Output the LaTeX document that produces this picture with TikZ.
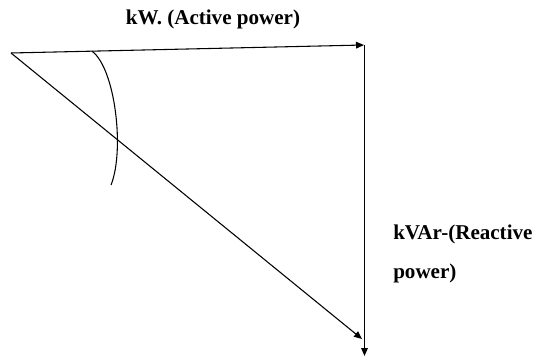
\documentclass[tikz,border=0pt]{standalone}
\usepackage{fontspec}
\setmainfont{Liberation Serif}
\usepackage{tikz}
\usetikzlibrary{arrows.meta, positioning}
\tikzset{
  vec/.style ={draw, line width=0.8pt, -{Triangle[length=6pt, width=5pt]}},
  ang/.style ={draw, line width=0.8pt},
  lbl/.style ={font=\bfseries\fontsize{15.8}{29}\selectfont, inner sep=0pt, align=left},
}

\begin{document}
\begin{tikzpicture}[x=0.75pt, y=-0.75pt]
  \useasboundingbox (0,0) rectangle (539,356);
  \coordinate (o) at (11,53);
  \coordinate (kw) at (364,45);
  \coordinate (top) at (364.5,45);
  \coordinate (kvar) at (364.5,356);
  \coordinate (kva) at (362,339);
  \coordinate (arcbeg) at (92,51.2);
  \coordinate (arcend) at (111,185);
  \node[lbl] (kwlbl) at (213,19) {kW. (Active power)};
  \node[lbl, anchor=north west] (kvarlbl) at (393,225) {kVAr-(Reactive\\power)};
  \draw[vec] (o)--(kw);
  \draw[vec] (top)--(kvar);
  \draw[vec] (o)--(kva);
  \draw[ang] (arcbeg) .. controls (115,68) and (125,150) .. (arcend);
\end{tikzpicture}
\end{document}
